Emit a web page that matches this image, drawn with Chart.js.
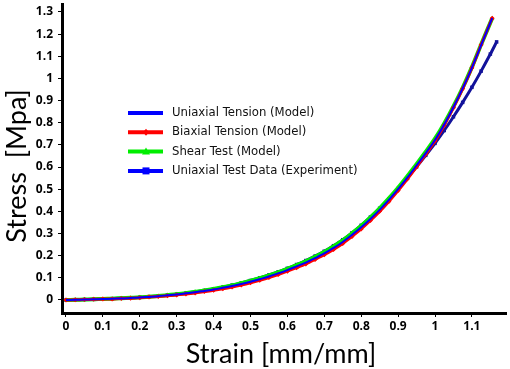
<!DOCTYPE html>
<html>
<head>
<meta charset="utf-8">
<script src="https://cdn.jsdelivr.net/npm/chart.js@4.4.1/dist/chart.umd.min.js"></script>
<style>
  html, body { margin: 0; padding: 0; background: #fff; }
  #wrap { width: 510px; height: 369px; }
</style>
</head>
<body>
<div id="wrap"><canvas id="stressChart" width="510" height="369"></canvas></div>
<script>
// data
const modelStrain = [0, 0.025, 0.05, 0.075, 0.1, 0.125, 0.15, 0.175, 0.2, 0.225, 0.25, 0.275, 0.3, 0.325, 0.35, 0.375,
  0.4, 0.425, 0.45, 0.475, 0.5, 0.525, 0.55, 0.575, 0.6, 0.625, 0.65, 0.675, 0.7, 0.725, 0.75, 0.775,
  0.8, 0.825, 0.85, 0.875, 0.9, 0.925, 0.95, 0.975, 1.0, 1.025, 1.05, 1.075, 1.1, 1.125, 1.155];
const uniaxialModel = [0, 0.001, 0.002, 0.003, 0.004, 0.006, 0.007, 0.009, 0.011, 0.014, 0.017, 0.021, 0.025, 0.030, 0.035, 0.041,
  0.047, 0.055, 0.063, 0.072, 0.082, 0.094, 0.106, 0.120, 0.135, 0.152, 0.169, 0.189, 0.210, 0.235, 0.262, 0.294,
  0.328, 0.366, 0.407, 0.452, 0.500, 0.552, 0.607, 0.663, 0.722, 0.792, 0.870, 0.955, 1.048, 1.150, 1.272];
const biaxialModel = [0, 0.001, 0.002, 0.003, 0.004, 0.005, 0.007, 0.008, 0.010, 0.013, 0.016, 0.019, 0.023, 0.027, 0.032, 0.038,
  0.044, 0.051, 0.059, 0.068, 0.078, 0.089, 0.101, 0.115, 0.130, 0.146, 0.163, 0.183, 0.204, 0.228, 0.255, 0.287,
  0.321, 0.359, 0.400, 0.445, 0.494, 0.546, 0.601, 0.658, 0.718, 0.789, 0.868, 0.954, 1.048, 1.152, 1.272];
const shearModel = [0, 0.001, 0.002, 0.003, 0.005, 0.006, 0.008, 0.010, 0.012, 0.015, 0.018, 0.022, 0.026, 0.031, 0.037, 0.043,
  0.050, 0.058, 0.066, 0.076, 0.086, 0.098, 0.111, 0.125, 0.140, 0.157, 0.175, 0.195, 0.217, 0.242, 0.269, 0.301,
  0.335, 0.373, 0.414, 0.459, 0.507, 0.559, 0.613, 0.669, 0.728, 0.797, 0.874, 0.958, 1.051, 1.153, 1.272];
const testStrain = [0, 0.025, 0.05, 0.075, 0.1, 0.125, 0.15, 0.175, 0.2, 0.225, 0.25, 0.275, 0.3, 0.325, 0.35, 0.375,
  0.4, 0.425, 0.45, 0.475, 0.5, 0.525, 0.55, 0.575, 0.6, 0.625, 0.65, 0.675, 0.7, 0.725, 0.75, 0.775,
  0.8, 0.825, 0.85, 0.875, 0.9, 0.925, 0.95, 0.975, 1.0, 1.025, 1.05, 1.075, 1.1, 1.125, 1.15, 1.167];
const uniaxialTest = [0, 0.001, 0.002, 0.003, 0.005, 0.006, 0.008, 0.010, 0.012, 0.015, 0.018, 0.022, 0.026, 0.031, 0.037, 0.043,
  0.050, 0.058, 0.067, 0.077, 0.088, 0.100, 0.113, 0.127, 0.143, 0.160, 0.178, 0.198, 0.220, 0.245, 0.272, 0.303,
  0.337, 0.374, 0.414, 0.457, 0.503, 0.551, 0.601, 0.653, 0.707, 0.765, 0.827, 0.892, 0.960, 1.033, 1.110, 1.165];

const seriesLabels = [
  "Uniaxial Tension (Model)",
  "Biaxial Tension (Model)",
  "Shear Test (Model)",
  "Uniaxial Test Data (Experiment)",
];
const xTitle = "Strain [mm/mm]";
const yTitle = "Stress  [Mpa]";

function pts(xs, ys) {
  return xs.map((x, i) => ({ x: x, y: ys[i] }));
}

// legend drawn inside the plot, like the original
const legendItems = [
  { label: seriesLabels[0], color: "#0000ff", marker: null },
  { label: seriesLabels[1], color: "#ff0000", marker: "diamond" },
  { label: seriesLabels[2], color: "#00ee00", marker: "triangle" },
  { label: seriesLabels[3], color: "#0000ff", marker: "square" },
];

const insideLegend = {
  id: "insideLegend",
  afterDraw(chart) {
    const ctx = chart.ctx;
    ctx.save();
    ctx.font = "11.7px 'DejaVu Sans'";
    ctx.textBaseline = "middle";
    legendItems.forEach((it, i) => {
      const y = 113 + i * 19.3;
      ctx.strokeStyle = it.color;
      ctx.lineWidth = 4;
      ctx.beginPath();
      ctx.moveTo(128, y);
      ctx.lineTo(163, y);
      ctx.stroke();
      ctx.fillStyle = it.color;
      ctx.beginPath();
      if (it.marker === "diamond") {
        ctx.moveTo(146, y - 3.5); ctx.lineTo(149, y); ctx.lineTo(146, y + 3.5); ctx.lineTo(143, y);
      } else if (it.marker === "triangle") {
        ctx.moveTo(146, y - 4); ctx.lineTo(150, y + 3); ctx.lineTo(142, y + 3);
      } else if (it.marker === "square") {
        ctx.rect(142.5, y - 3.5, 7, 7);
      }
      ctx.fill();
      ctx.fillStyle = "#111";
      ctx.fillText(it.label, 172, y);
    });

    // axis titles
    ctx.fillStyle = "#000";
    ctx.font = "27px Lato";
    ctx.textAlign = "center";
    ctx.textBaseline = "alphabetic";
    ctx.fillText(xTitle, 281, 363);
    ctx.translate(26, 166);
    ctx.rotate(-Math.PI / 2);
    ctx.fillText(yTitle, 0, 0);
    ctx.restore();
  },
};

const tickFont = { family: "'Open Sans'", size: 12, weight: "bold" };

new Chart(document.getElementById("stressChart"), {
  type: "scatter",
  data: {
    datasets: [
      {
        label: seriesLabels[0],
        data: pts(modelStrain, uniaxialModel),
        showLine: true,
        borderColor: "#0000ff",
        borderWidth: 2,
        pointRadius: 0,
        tension: 0.3,
        order: 1,
      },
      {
        label: seriesLabels[1],
        data: pts(modelStrain, biaxialModel),
        showLine: true,
        borderColor: "#ff0000",
        backgroundColor: "#ff0000",
        borderWidth: 3,
        pointStyle: "rectRot",
        pointRadius: 2.5,
        pointBorderWidth: 0,
        tension: 0.3,
        order: 2,
      },
      {
        label: seriesLabels[2],
        data: pts(modelStrain, shearModel),
        showLine: true,
        borderColor: "#00ee00",
        backgroundColor: "#00ee00",
        borderWidth: 4,
        pointStyle: "triangle",
        pointRadius: 2.5,
        pointBorderWidth: 0,
        tension: 0.3,
        order: 3,
      },
      {
        label: seriesLabels[3],
        data: pts(testStrain, uniaxialTest),
        showLine: true,
        borderColor: "#12129a",
        backgroundColor: "#12129a",
        borderWidth: 3,
        pointStyle: "rect",
        pointRadius: 2.5,
        pointBorderWidth: 0,
        tension: 0.3,
        order: 4,
      },
    ],
  },
  options: {
    responsive: false,
    animation: false,
    devicePixelRatio: 1,
    layout: { padding: 0 },
    plugins: {
      legend: { display: false },
      tooltip: { enabled: false },
    },
    scales: {
      x: {
        type: "linear",
        min: -0.0108,
        max: 1.1924,
        afterFit(scale) {
          scale.height = 56;
          scale.paddingLeft = 0;
          scale.paddingRight = 0;
        },
        border: { display: true, color: "#000", width: 3 },
        grid: { display: true, drawOnChartArea: false, drawTicks: true, tickLength: 4, color: "#000" },
        ticks: {
          stepSize: 0.1,
          includeBounds: false,
          maxRotation: 0,
          autoSkip: false,
          padding: 2,
          color: "#000",
          font: tickFont,
          callback: (v) => (v > 1.15 ? null : String(Math.round(v * 10) / 10)),
        },
        title: { display: false },
      },
      y: {
        type: "linear",
        min: -0.0587,
        max: 1.336,
        afterFit(scale) {
          scale.width = 62;
          scale.paddingTop = 0;
          scale.paddingBottom = 0;
        },
        border: { display: true, color: "#000", width: 3 },
        grid: { display: true, drawOnChartArea: false, drawTicks: true, tickLength: 4, color: "#000" },
        ticks: {
          stepSize: 0.1,
          includeBounds: false,
          autoSkip: false,
          padding: 5,
          color: "#000",
          font: tickFont,
          callback: (v) => String(Math.round(v * 10) / 10),
        },
        title: { display: false },
      },
    },
  },
  plugins: [insideLegend],
});
</script>
</body>
</html>
